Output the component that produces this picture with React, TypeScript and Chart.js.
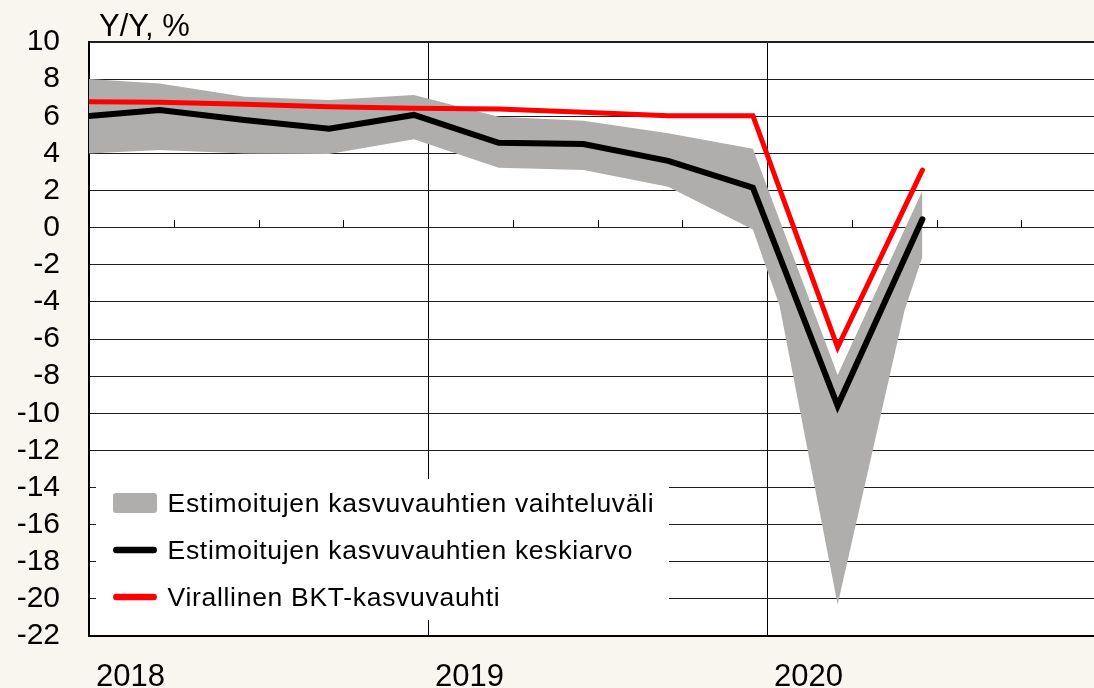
import React, { useEffect, useRef } from 'react';
import { Chart, registerables } from 'chart.js';

Chart.register(...registerables);

const FONT = '"Liberation Sans", Arial, Helvetica, sans-serif';

// Quarterly observations; x = months since Jan 2018 (middle of the quarter's last month)
const quarterLabels = ['2017Q4', '2018Q1', '2018Q2', '2018Q3', '2018Q4', '2019Q1', '2019Q2', '2019Q3', '2019Q4', '2020Q1', '2020Q2'];
const quarterMonths = [-0.5, 2.5, 5.5, 8.5, 11.5, 14.5, 17.5, 20.5, 23.5, 26.5, 29.5];
const meanGrowth = [5.95, 6.33, 5.8, 5.33, 6.07, 4.57, 4.5, 3.6, 2.15, -9.6, 0.45];
const officialGrowth = [6.78, 6.75, 6.64, 6.51, 6.43, 6.39, 6.21, 6.03, 6.03, -6.45, 3.1];
const rangeHigh = [8.05, 7.77, 7.05, 6.87, 7.14, 5.97, 5.76, 5.08, 4.25, -7.94, 1.98];
// lower envelope has two extra kinks where estimates cross
const rangeLowMonths = [-0.5, 2.5, 5.5, 8.5, 11.5, 14.5, 17.5, 20.5, 23.5, 24.44, 26.5, 28.87, 29.5];
const rangeLow = [3.95, 4.18, 4.0, 3.97, 4.76, 3.23, 3.1, 2.2, -0.1, -4.18, -20.3, -4.45, -1.58];

const yearLabels = ['2018', '2019', '2020'];
const yearStartMonths = [0, 12, 24];
const yearLabelOffset = 1.47; // label placed slightly into each year
const yMin = -22;
const yMax = 10;
const yStep = 2;
const xMax = 35.575;

const yAxisTitle = 'Y/Y, %';
const legendLabels = [
  'Estimoitujen kasvuvauhtien vaihteluväli',
  'Estimoitujen kasvuvauhtien keskiarvo',
  'Virallinen BKT-kasvuvauhti',
];

const BG = '#f9f5ef';
const GRAY = '#b0adad';
const RED = '#ff0000';
const BLACK = '#000000';
const GRID = '#1e1e1e';

const pts = (xs: number[], ys: number[]) => xs.map((x, i) => ({ x, y: ys[i] }));

export default function App() {
  const ref = useRef<HTMLCanvasElement | null>(null);

  useEffect(() => {
    if (!ref.current) return;

    const decor = {
      id: 'decor',
      beforeDraw(chart: any) {
        const { ctx, chartArea: ca } = chart;
        ctx.save();
        ctx.fillStyle = BG;
        ctx.fillRect(0, 0, chart.width, chart.height);
        ctx.fillStyle = '#ffffff';
        ctx.fillRect(ca.left, ca.top, ca.right - ca.left, ca.bottom - ca.top);
        ctx.restore();
      },
      beforeDatasetsDraw(chart: any) {
        const { ctx } = chart;
        const xs = chart.scales.x;
        const ys = chart.scales.y;
        const y0 = Math.round(ys.getPixelForValue(0));
        ctx.save();
        ctx.strokeStyle = BLACK;
        ctx.lineWidth = 1;
        ctx.beginPath();
        for (let m = 3; m < xMax; m += 3) {
          if (m % 12 === 0) continue;
          const px = Math.round(xs.getPixelForValue(m)) + 0.5;
          ctx.moveTo(px, y0);
          ctx.lineTo(px, y0 - 8);
        }
        ctx.stroke();
        ctx.restore();
      },
      afterDatasetsDraw(chart: any) {
        const { ctx, chartArea: ca } = chart;
        ctx.save();
        // axis title
        ctx.fillStyle = BLACK;
        ctx.font = `31px ${FONT}`;
        ctx.textBaseline = 'alphabetic';
        ctx.textAlign = 'left';
        ctx.fillText(yAxisTitle, ca.left + 10, 36);

        // legend
        const bx = ca.left + 7;
        const by = 479;
        const bw = 573;
        const bh = 141;
        ctx.fillStyle = '#ffffff';
        ctx.fillRect(bx, by, bw, bh);
        const rows = [503, 550, 597];
        const sx0 = 113;
        const sx1 = 157;
        // range swatch
        ctx.fillStyle = GRAY;
        ctx.beginPath();
        (ctx as any).roundRect(sx0, rows[0] - 10, sx1 - sx0, 20, 3);
        ctx.fill();
        // line swatches
        ctx.lineCap = 'round';
        ctx.lineWidth = 6.5;
        ctx.strokeStyle = BLACK;
        ctx.beginPath();
        ctx.moveTo(sx0 + 3.3, rows[1]);
        ctx.lineTo(sx1 - 3.3, rows[1]);
        ctx.stroke();
        ctx.strokeStyle = RED;
        ctx.beginPath();
        ctx.moveTo(sx0 + 3.3, rows[2]);
        ctx.lineTo(sx1 - 3.3, rows[2]);
        ctx.stroke();
        // labels
        ctx.fillStyle = BLACK;
        ctx.font = `26.5px ${FONT}`;
        (ctx as any).letterSpacing = '0.7px';
        ctx.textBaseline = 'alphabetic';
        const baselines = [512, 559, 605.5];
        legendLabels.forEach((t, i) => ctx.fillText(t, 167.5, baselines[i]));
        ctx.restore();
      },
    };

    const labelTicks: number[] = [];
    yearStartMonths.forEach((m) => {
      labelTicks.push(m, m + yearLabelOffset);
    });

    const chart = new Chart(ref.current, {
      type: 'line',
      data: {
        datasets: [
          {
            label: legendLabels[2],
            data: pts(quarterMonths, officialGrowth),
            borderColor: RED,
            borderWidth: 5,
            borderCapStyle: 'round',
            borderJoinStyle: 'miter',
            pointRadius: 0,
            tension: 0,
            fill: false,
            clip: 0,
          },
          {
            label: legendLabels[1],
            data: pts(quarterMonths, meanGrowth),
            borderColor: BLACK,
            borderWidth: 6,
            borderCapStyle: 'round',
            borderJoinStyle: 'miter',
            pointRadius: 0,
            tension: 0,
            fill: false,
            clip: 0,
          },
          {
            label: 'high',
            data: pts(quarterMonths, rangeHigh),
            borderColor: 'rgba(0,0,0,0)',
            borderWidth: 0,
            pointRadius: 0,
            tension: 0,
            fill: false,
            clip: 0,
          },
          {
            label: legendLabels[0],
            data: pts(rangeLowMonths, rangeLow),
            borderColor: 'rgba(0,0,0,0)',
            borderWidth: 0,
            backgroundColor: GRAY,
            pointRadius: 0,
            tension: 0,
            fill: '-1',
            clip: 0,
          },
        ],
      } as any,
      options: {
        responsive: false,
        animation: false,
        devicePixelRatio: 1,
        layout: { padding: { top: 42, right: 0, bottom: 0, left: 0 } },
        plugins: {
          legend: { display: false },
          tooltip: { enabled: false },
          title: { display: false },
        },
        scales: {
          x: {
            type: 'linear',
            min: 0,
            max: xMax,
            afterBuildTicks: (s: any) => {
              s.ticks = labelTicks.map((v) => ({ value: v }));
            },
            afterFit: (s: any) => {
              s.height = 52;
              s.paddingLeft = 0;
              s.paddingRight = 0;
            },
            ticks: {
              autoSkip: false,
              maxRotation: 0,
              minRotation: 0,
              padding: 23,
              color: BLACK,
              font: { family: FONT, size: 31 },
              callback: (v: any) => {
                const idx = yearStartMonths.findIndex((m) => Math.abs(m + yearLabelOffset - v) < 1e-6);
                return idx >= 0 ? yearLabels[idx] : '';
              },
            },
            grid: {
              drawTicks: false,
              lineWidth: 1,
              color: (c: any) => {
                const v = c.tick ? c.tick.value : null;
                return v === 12 || v === 24 ? BLACK : 'rgba(0,0,0,0)';
              },
            },
            border: { display: true, color: BLACK, width: 2 },
          },
          y: {
            type: 'linear',
            min: yMin,
            max: yMax,
            afterFit: (s: any) => {
              s.width = 89;
              s.paddingTop = 0;
              s.paddingBottom = 0;
            },
            ticks: {
              stepSize: yStep,
              autoSkip: false,
              padding: 29,
              color: BLACK,
              font: { family: FONT, size: 30 },
            },
            grid: {
              drawTicks: false,
              color: GRID,
              lineWidth: (c: any) => (c.tick && c.tick.value === yMax ? 2 : 1),
            },
            border: { display: true, color: BLACK, width: 2 },
          },
        },
      } as any,
      plugins: [decor],
    });

    return () => chart.destroy();
  }, []);

  return (
    <div style={{ position: 'absolute', left: 0, top: 0, width: 1094, height: 688 }}>
      <canvas ref={ref} width={1094} height={688} />
    </div>
  );
}
